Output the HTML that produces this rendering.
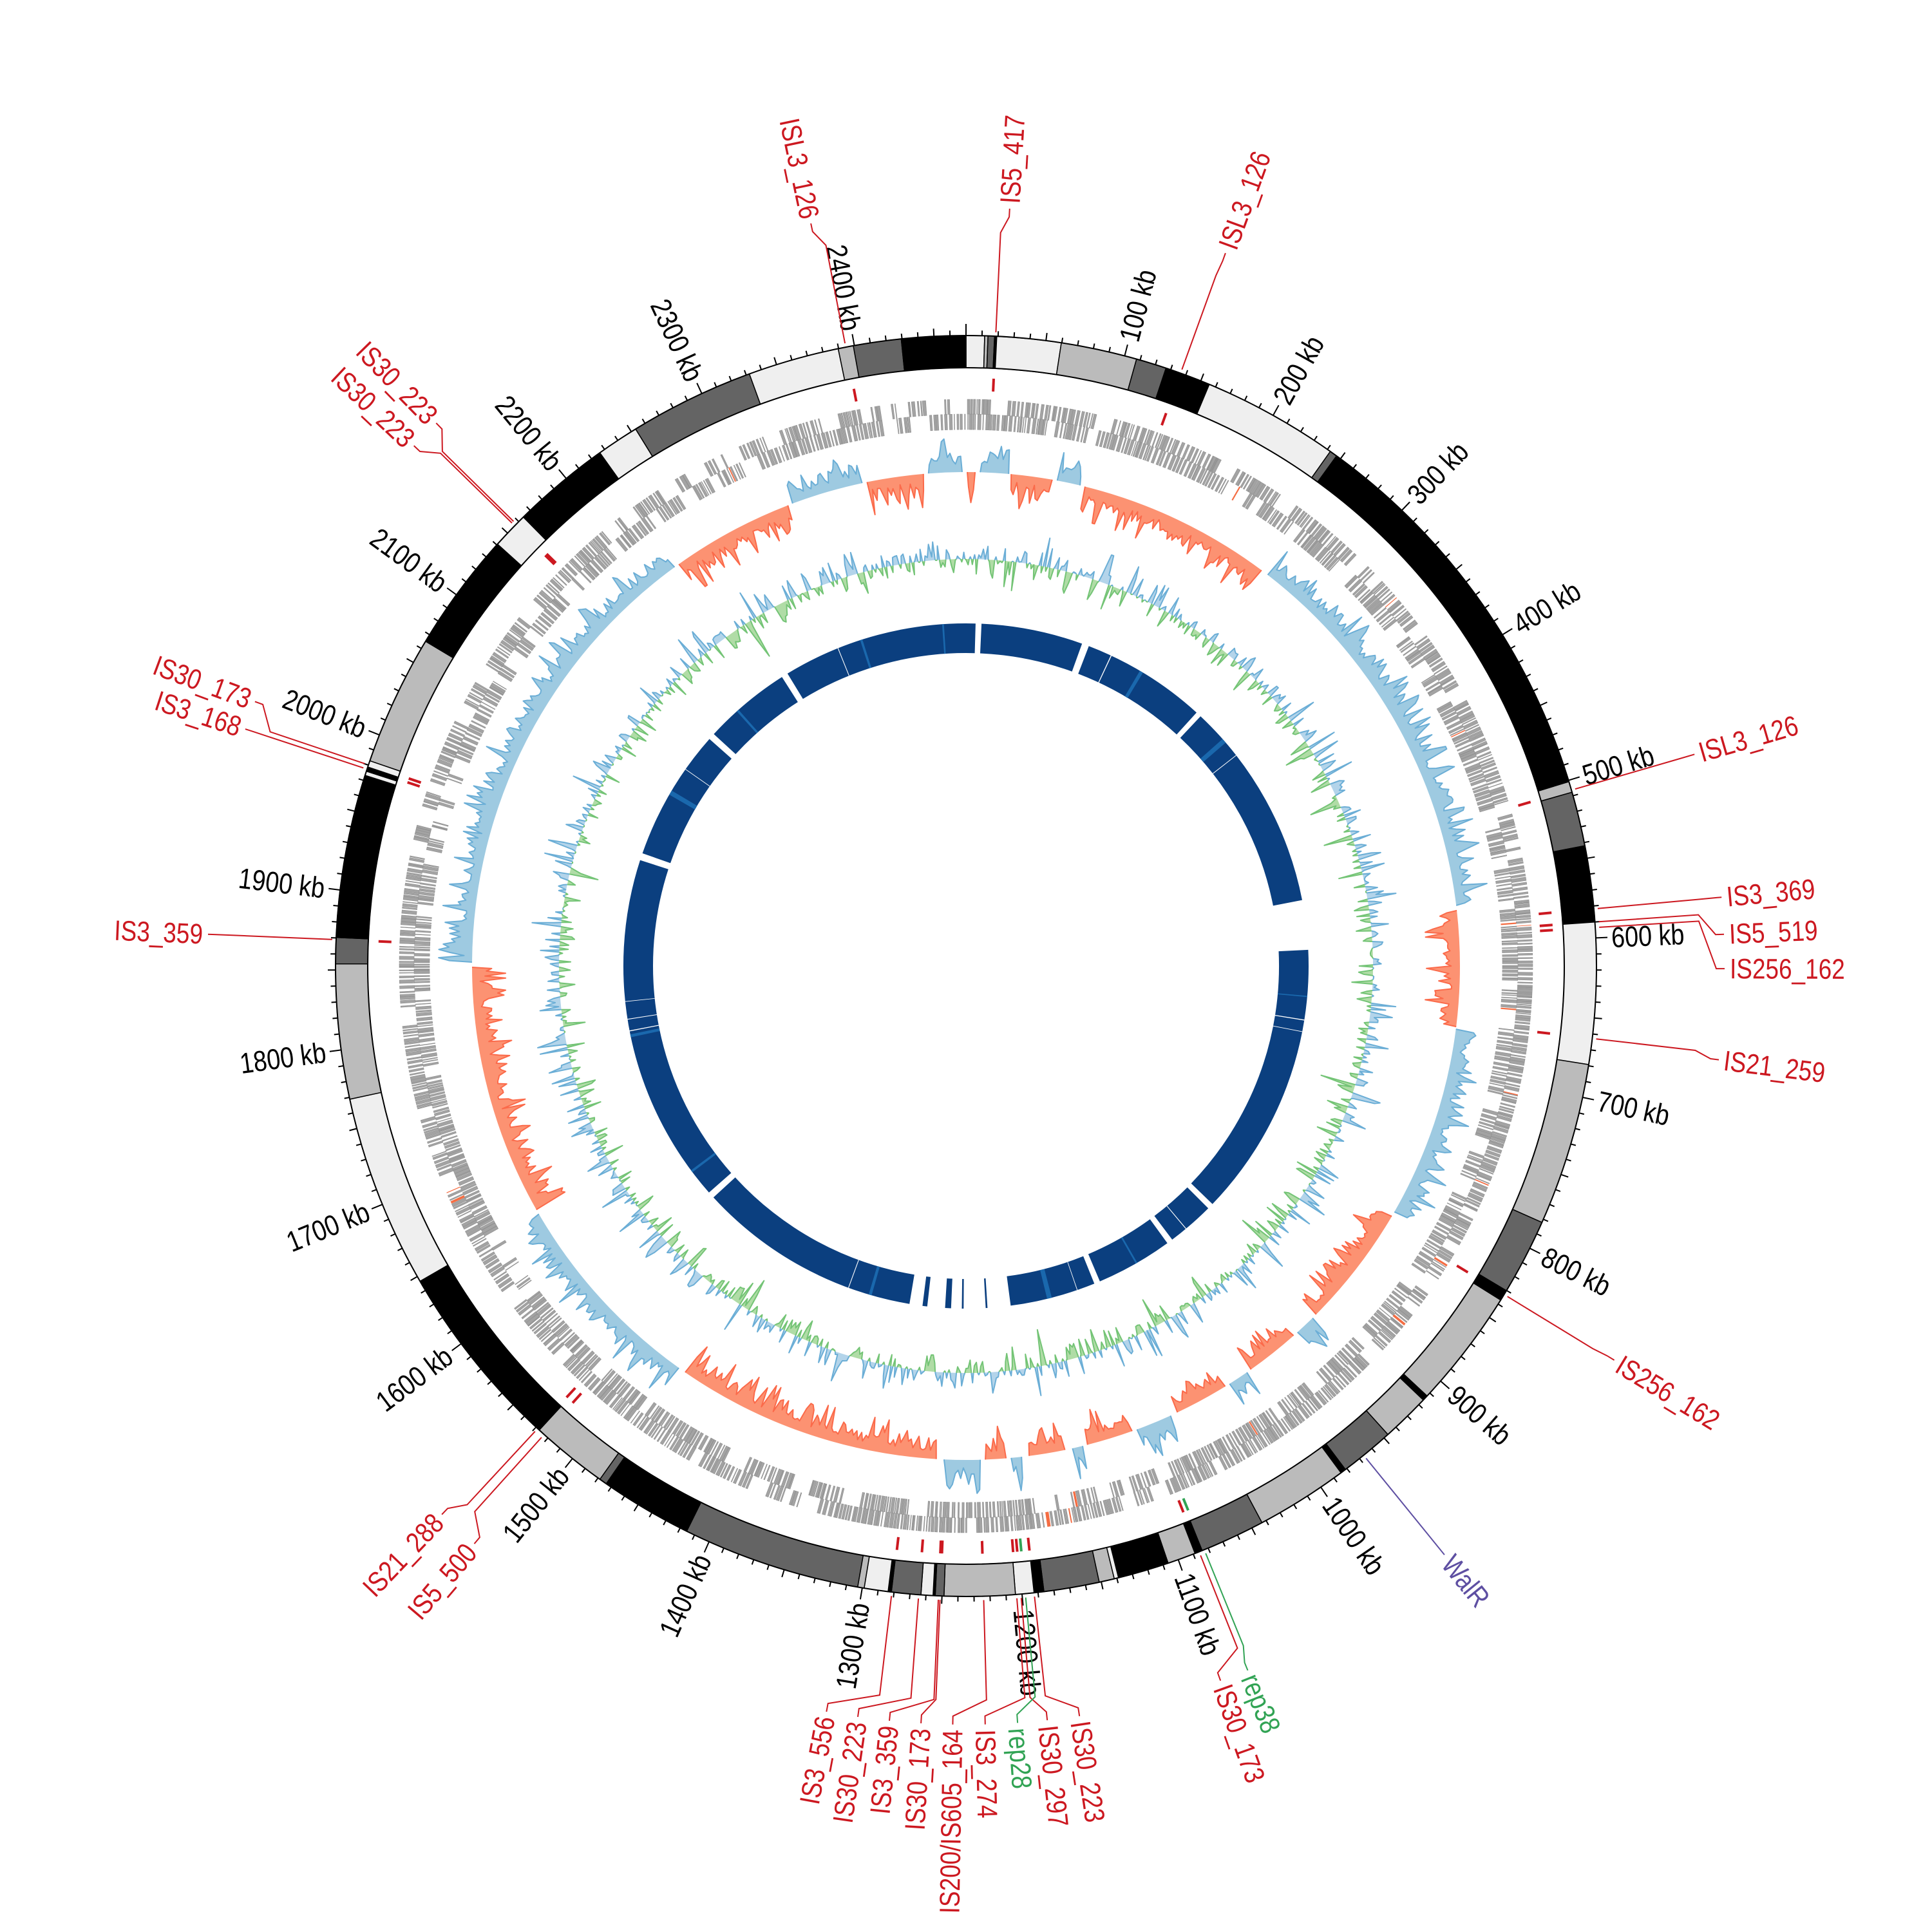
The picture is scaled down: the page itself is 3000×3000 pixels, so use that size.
<!DOCTYPE html>
<html><head><meta charset="utf-8"><style>
html,body{margin:0;padding:0;background:#fff;}
svg{display:block;}
text{font-family:"Liberation Sans Narrow","Liberation Sans",sans-serif;}
</style></head><body>
<svg id="s" xmlns="http://www.w3.org/2000/svg" width="3000" height="3000" viewBox="0 0 3000 3000">
<rect width="3000" height="3000" fill="#fff"/>
<g id="tracks"></g>
<g id="ideo"></g>
<g id="ticks"></g>
<g id="labels" font-size="45">
<text data-a="100">100 kb</text><text data-a="200">200 kb</text><text data-a="300">300 kb</text><text data-a="400">400 kb</text><text data-a="500">500 kb</text><text data-a="600">600 kb</text><text data-a="700">700 kb</text><text data-a="800">800 kb</text><text data-a="900">900 kb</text><text data-a="1000">1000 kb</text><text data-a="1100">1100 kb</text><text data-a="1200">1200 kb</text><text data-a="1300">1300 kb</text><text data-a="1400">1400 kb</text><text data-a="1500">1500 kb</text><text data-a="1600">1600 kb</text><text data-a="1700">1700 kb</text><text data-a="1800">1800 kb</text><text data-a="1900">1900 kb</text><text data-a="2000">2000 kb</text><text data-a="2100">2100 kb</text><text data-a="2200">2200 kb</text><text data-a="2300">2300 kb</text><text data-a="2400">2400 kb</text>
</g>
<g id="feat" font-size="44">
<text data-f="349.0" data-l="348.2" fill="#cc1820">ISL3_126</text>
<text data-f="2.7" data-l="3.3" fill="#cc1820">IS5_417</text>
<text data-f="19.9" data-l="20.0" fill="#cc1820">ISL3_126</text>
<text data-f="73.8" data-l="73.8" fill="#cc1820">ISL3_126</text>
<text data-f="84.8" data-l="84.8" fill="#cc1820">IS3_369</text>
<text data-f="86.0" data-l="87.6" fill="#cc1820">IS5_519</text>
<text data-f="86.5" data-l="90.2" fill="#cc1820">IS256_162</text>
<text data-f="96.6" data-l="97.1" fill="#cc1820">IS21_259</text>
<text data-f="121.4" data-l="121.3" fill="#cc1820">IS256_162</text>
<text data-f="140.9" data-l="140.9" fill="#5e4fa2">WalR</text>
<text data-f="157.8" data-l="158.2" fill="#31a354">rep38</text>
<text data-f="158.3" data-l="160.4" fill="#cc1820">IS30_173</text>
<text data-f="173.8" data-l="171.4" fill="#cc1820">IS30_223</text>
<text data-f="175.0" data-l="173.85" fill="#cc1820">IS30_297</text>
<text data-f="174.6" data-l="176.1" fill="#31a354">rep28</text>
<text data-f="175.4" data-l="178.55" fill="#cc1820">IS3_274</text>
<text data-f="178.4" data-l="181.0" fill="#cc1820">IS200/IS605_164</text>
<text data-f="182.35" data-l="183.4" fill="#cc1820">IS30_173</text>
<text data-f="182.5" data-l="185.8" fill="#cc1820">IS3_359</text>
<text data-f="184.3" data-l="188.2" fill="#cc1820">IS30_223</text>
<text data-f="186.75" data-l="190.6" fill="#cc1820">IS3_556</text>
<text data-f="222.0" data-l="220.4" fill="#cc1820">IS5_500</text>
<text data-f="222.8" data-l="223.7" fill="#cc1820">IS21_288</text>
<text data-f="272.4" data-l="272.4" fill="#cc1820">IS3_359</text>
<text data-f="288.2" data-l="288.2" fill="#cc1820">IS3_168</text>
<text data-f="288.6" data-l="290.4" fill="#cc1820">IS30_173</text>
<text data-f="314.3" data-l="313.3" fill="#cc1820">IS30_223</text>
<text data-f="314.5" data-l="315.7" fill="#cc1820">IS30_223</text>
</g>
</svg>
<script>
(function(){
var NS="http://www.w3.org/2000/svg",cx=1500,cy=1500,T=2470;
function P(r,a){var t=a*Math.PI/180;return [cx+r*Math.sin(t),cy-r*Math.cos(t)];}
function f(n){return n.toFixed(1);}
function arc(r1,r2,a1,a2){var L=(a2-a1)>180?1:0,p1=P(r2,a1),p2=P(r2,a2),p3=P(r1,a2),p4=P(r1,a1);
return "M"+f(p1[0])+","+f(p1[1])+"A"+r2+","+r2+" 0 "+L+" 1 "+f(p2[0])+","+f(p2[1])+"L"+f(p3[0])+","+f(p3[1])+"A"+r1+","+r1+" 0 "+L+" 0 "+f(p4[0])+","+f(p4[1])+"Z";}
function el(tag,attrs,parent){var e=document.createElementNS(NS,tag);for(var k in attrs)e.setAttribute(k,attrs[k]);parent.appendChild(e);return e;}
var seed=12345;function rnd(){seed|=0;seed=seed+0x6D2B79F5|0;var t=Math.imul(seed^seed>>>15,1|seed);t=t+Math.imul(t^t>>>7,61|t)^t;return((t^t>>>14)>>>0)/4294967296;}
function gauss(){return Math.sqrt(-2*Math.log(rnd()+1e-9))*Math.cos(2*Math.PI*rnd());}
var tracks=document.getElementById("tracks");

// inner blue ring
var segs=[[2.6,19.8],[21,42.3],[43.2,78.9],[87.3,134],[135,143],[144,157],[158,172.5],[176.4,176.7],[180.4,180.7],[182.5,183.5],[186.5,187.3],[189.5,227.5],[228.6,288],[289.2,311.5],[312.6,327.5],[328.6,361.6]];
var d="";segs.forEach(function(s){d+=arc(486,532,s[0],s[1]);});
el("path",{d:d,fill:"#0b3f7f"},tracks);
var stripes=[[30.5,0.6],[48.5,0.8],[95,0.2],[150,0.3],[165.5,0.8],[196,0.5],[233,0.4],[258,0.5],[300,0.8],[318,0.4],[342,0.4],[356,0.3]],ds="";
stripes.forEach(function(s){ds+=arc(486,532,s[0],s[0]+s[1]);});
el("path",{d:ds,fill:"#1a68ad"},tracks);
var wl=[[25,0.15],[52,0.12],[99,0.15],[101,0.1],[140,0.12],[161,0.1],[200,0.12],[259,0.15],[261,0.12],[264,0.1],[305,0.1],[338,0.12]],dw="";
wl.forEach(function(s){dw+=arc(486,532,s[0],s[0]+s[1]);});
el("path",{d:dw,fill:"#ffffff"},tracks);

function radialTrack(base,vals,step,colPos,fillPos,colNeg,fillNeg,sw){
 ["pos","neg"].forEach(function(k){
  var fillD="",strokeD="",cur=[];
  function flush(){if(cur.length>1){
     var s=cur.map(function(q){var p=P(base+q[1],q[0]);return f(p[0])+","+f(p[1]);});
     strokeD+="M"+s.join("L");
     var b1=P(base,cur[cur.length-1][0]),b0=P(base,cur[0][0]);
     fillD+="M"+s.join("L")+"L"+f(b1[0])+","+f(b1[1])+"A"+base+","+base+" 0 0 0 "+f(b0[0])+","+f(b0[1])+"Z";}
   cur=[];}
  for(var i=0;i<vals.length;i++){var v=vals[i];v=k=="pos"?Math.max(v,0):Math.min(v,0);
   if(v!==0){if(cur.length==0)cur.push([(i-0.5)*step,0]);cur.push([i*step,v]);}
   else if(cur.length){cur.push([(i-0.5)*step,0]);flush();}}
  if(cur.length){cur.push([(vals.length-0.5)*step,0]);flush();}
  el("path",{d:fillD,fill:k=="pos"?fillPos:fillNeg,stroke:"none"},tracks);
  el("path",{d:strokeD,fill:"none",stroke:k=="pos"?colPos:colNeg,"stroke-width":sw,"stroke-linejoin":"round"},tracks);
 });
}
var step=0.3,N=1200,gc=[];
for(var i=0;i<N;i++){var v=gauss()*14;if(rnd()<0.08)v+=(rnd()<0.5?-1:1)*(25+rnd()*25);gc.push(Math.max(-62,Math.min(45,v)));}
radialTrack(632,gc,step,"#6baed6","#b3d4ea","#74c476","#b0dca6",2);

// GC skew
var reg=[[0,1.2,-1],[1.5,5,1],[5.2,10.4,-1],[10.5,13.5,1],[13.8,37,-1],[37.5,83,1],[83.3,97,-1],[97.3,120,1],[120.3,135,-1],[135.3,138,1],[138.3,145,-1],[145.3,148,1],[148.3,155,-1],[155.3,160,1],[160.3,166,-1],[166.3,168,1],[168.3,173,-1],[173.3,175,1],[175.3,178,-1],[178.3,183,1],[183.3,215,-1],[215.3,240,1],[240.3,270,-1],[270.3,324,1],[324.3,339,-1],[339.3,348,1],[348.3,355.4,-1],[355.6,360,1]];
var sk=[];for(var i=0;i<N;i++)sk.push(0);
reg.forEach(function(r){for(var a=r[0]+0.3;a<r[1]-0.2;a+=step){var i=Math.round(a/step);if(i>=N)continue;var v=12+Math.abs(gauss())*14;if(rnd()<0.12)v+=15+rnd()*22;sk[i]=r[2]*Math.min(52,v);}});
radialTrack(767,sk,step,"#6baed6","#9ecae1","#fb6a4a","#fc9272",2);

// genes
["o","i"].forEach(function(k){var r1=k=="o"?857:833,r2=k=="o"?880:857,a=0,dg="",dr="";
 while(a<360){var g=rnd()<0.06?0.8+rnd()*1.5:rnd()*0.3;a+=g;var len=0.05+rnd()*0.3;if(a+len>360)break;
  var p=arc(r1,r2,a,a+len);if(rnd()<0.01)dr+=p;else dg+=p;a+=len;}
 el("path",{d:dg,fill:"#a3a3a3",stroke:"#8f8f8f","stroke-width":0.6},tracks);
 el("path",{d:dr,fill:"#f46d43"},tracks);});

// ideogram
var ide=[[0,1.7,"L"],[1.7,2.0,"G"],[2.0,2.6,"D"],[2.6,2.8,"K"],[2.8,8.7,"L"],[8.7,15.7,"G"],[15.7,18.5,"D"],[18.5,22.7,"K"],[22.7,35.3,"L"],[35.3,36,"D"],[36,73,"K"],[73,74,"G"],[74,79,"D"],[79,86,"K"],[86,99,"L"],[99,114,"G"],[114,121,"D"],[121,122,"K"],[122,133,"G"],[133,133.5,"K"],[133.5,138,"G"],[138,143,"D"],[143,143.5,"K"],[143.5,152,"G"],[152,158,"D"],[158,158.7,"K"],[158.7,161.3,"G"],[161.3,166,"K"],[166,166.4,"L"],[166.4,167.8,"G"],[167.8,172.9,"D"],[172.9,173.8,"K"],[173.8,175.5,"L"],[175.5,182,"G"],[182,182.8,"D"],[182.8,183,"K"],[183,184.1,"L"],[184.1,186.8,"D"],[186.8,187.1,"K"],[187.1,189.3,"L"],[189.3,189.9,"G"],[189.9,206.3,"D"],[206.3,214.8,"K"],[214.8,215.5,"D"],[215.5,222.6,"G"],[222.6,240,"K"],[240,257.8,"L"],[257.8,270.2,"G"],[270.2,272.6,"D"],[272.6,287.6,"K"],[287.6,288,"L"],[288,288.4,"K"],[288.4,289,"L"],[289,301,"G"],[301,312,"K"],[312,315.4,"L"],[315.4,324.5,"K"],[324.5,328.4,"L"],[328.4,339.9,"D"],[339.9,348.3,"L"],[348.3,349.7,"G"],[349.7,354.1,"D"],[354.1,360,"K"]];
var col={L:"#efefef",G:"#bbbbbb",D:"#646464",K:"#000000"};
var ig=document.getElementById("ideo");
ide.forEach(function(s){el("path",{d:arc(929,979,s[0],s[1]),fill:col[s[2]],stroke:"#000","stroke-width":1.5},ig);});
el("circle",{cx:cx,cy:cy,r:979,fill:"none",stroke:"#000","stroke-width":2},ig);
el("circle",{cx:cx,cy:cy,r:929,fill:"none",stroke:"#000","stroke-width":2},ig);

// ticks
var tk="";for(var kb=0;kb<T;kb+=10){var a=kb/T*360,len=kb%100==0?18:(kb%50==0?12:8);var p1=P(979,a),p2=P(979+len,a);tk+="M"+f(p1[0])+","+f(p1[1])+"L"+f(p2[0])+","+f(p2[1]);}
el("path",{d:tk,stroke:"#000","stroke-width":2,fill:"none"},document.getElementById("ticks"));

function place(t,a,r){var p=P(r,a),rot,anc;if(a%360<180){rot=a-90;anc="start";}else{rot=a+90;anc="end";}
 t.setAttribute("transform","translate("+f(p[0])+","+f(p[1])+") rotate("+rot.toFixed(2)+") scale(0.84,1)");
 t.setAttribute("text-anchor",anc);t.setAttribute("dominant-baseline","central");}
Array.prototype.forEach.call(document.querySelectorAll("#labels text"),function(t){place(t,(+t.getAttribute("data-a"))/T*360,1003);});

var fg=document.getElementById("feat");
Array.prototype.forEach.call(document.querySelectorAll("#feat text"),function(t){
 var fa=+t.getAttribute("data-f"),la=+t.getAttribute("data-l"),c=t.getAttribute("fill");
 var a=P(985,fa),b=P(1140,fa),c2=P(1165,la),d2=P(1178,la);
 el("path",{d:"M"+f(a[0])+","+f(a[1])+"L"+f(b[0])+","+f(b[1])+"L"+f(c2[0])+","+f(c2[1])+"L"+f(d2[0])+","+f(d2[1]),fill:"none",stroke:c,"stroke-width":2},fg);
 var m1=P(893,fa),m2=P(913,fa);
 el("path",{d:"M"+f(m1[0])+","+f(m1[1])+"L"+f(m2[0])+","+f(m2[1]),stroke:c=="#5e4fa2"?"none":c,"stroke-width":4},tracks);
 place(t,la,1186);
});
})();
</script>
</body></html>
